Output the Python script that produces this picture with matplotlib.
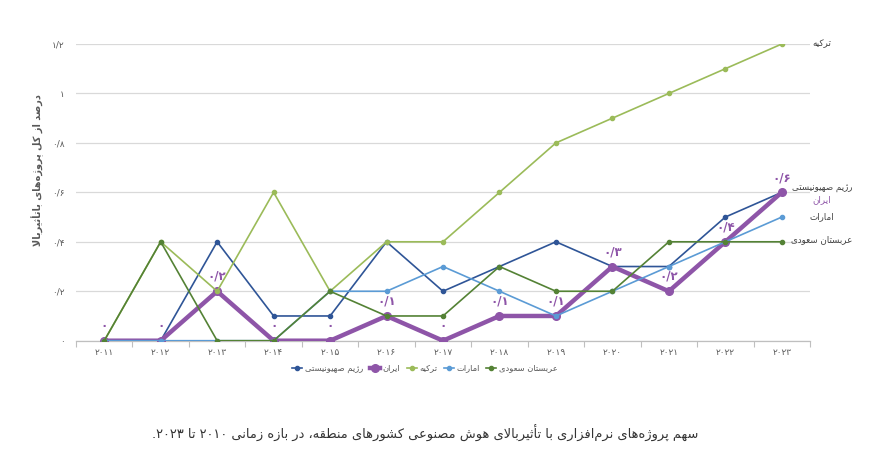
import re
import matplotlib
matplotlib.use('Agg')
import matplotlib.pyplot as plt
from matplotlib.lines import Line2D

# ---- Persian text helper (matplotlib has no shaping / bidi) ----
_B = {
    'ء': 0xFE80, 'آ': 0xFE81, 'أ': 0xFE83, 'ؤ': 0xFE85, 'إ': 0xFE87, 'ئ': 0xFE89,
    'ا': 0xFE8D, 'ب': 0xFE8F, 'ة': 0xFE93, 'ت': 0xFE95, 'ث': 0xFE99, 'ج': 0xFE9D,
    'ح': 0xFEA1, 'خ': 0xFEA5, 'د': 0xFEA9, 'ذ': 0xFEAB, 'ر': 0xFEAD, 'ز': 0xFEAF,
    'س': 0xFEB1, 'ش': 0xFEB5, 'ص': 0xFEB9, 'ض': 0xFEBD, 'ط': 0xFEC1, 'ظ': 0xFEC5,
    'ع': 0xFEC9, 'غ': 0xFECD, 'ف': 0xFED1, 'ق': 0xFED5, 'ك': 0xFED9, 'ل': 0xFEDD,
    'م': 0xFEE1, 'ن': 0xFEE5, 'ه': 0xFEE9, 'و': 0xFEED, 'ى': 0xFEEF, 'ي': 0xFEF1,
    'پ': 0xFB56, 'چ': 0xFB7A, 'ژ': 0xFB8A, 'ک': 0xFB8E, 'گ': 0xFB92, 'ی': 0xFBFC,
}
_RIGHT_ONLY = set('آأؤإاةدذرزوژى')
FORMS = {}
for ch, base in _B.items():
    if ch == 'ء':
        FORMS[ch] = (chr(base),)
    elif ch in _RIGHT_ONLY:
        FORMS[ch] = (chr(base), chr(base + 1))
    else:
        FORMS[ch] = tuple(chr(base + k) for k in range(4))
LAM_ALEF = {'آ': 0xFEF5, 'أ': 0xFEF7, 'إ': 0xFEF9, 'ا': 0xFEFB}


def fa(text):
    res = []
    i, n = 0, len(text)
    while i < n:
        c = text[i]
        if c not in FORMS:
            if c != '\u200c':
                res.append(c)
            i += 1
            continue
        prev = text[i - 1] if i > 0 else ''
        conn_prev = prev in FORMS and len(FORMS[prev]) == 4
        nxt = text[i + 1] if i + 1 < n else ''
        if c == 'ل' and nxt in LAM_ALEF:
            res.append(chr(LAM_ALEF[nxt] + (1 if conn_prev else 0)))
            i += 2
            continue
        f = FORMS[c]
        conn_next = len(f) == 4 and nxt in FORMS and len(FORMS[nxt]) >= 2
        if conn_prev and conn_next:
            res.append(f[3])
        elif conn_prev:
            res.append(f[1])
        elif conn_next:
            res.append(f[2])
        else:
            res.append(f[0])
        i += 1
    vis = ''.join(res)[::-1]
    return re.sub(r'[0-9۰-۹/]+', lambda m: m.group()[::-1], vis)


# ---- data ----
years = ['۲۰۱۱', '۲۰۱۲', '۲۰۱۳', '۲۰۱۴', '۲۰۱۵', '۲۰۱۶', '۲۰۱۷',
         '۲۰۱۸', '۲۰۱۹', '۲۰۲۰', '۲۰۲۱', '۲۰۲۲', '۲۰۲۳']
zionist = [0, 0, 0.4, 0.1, 0.1, 0.4, 0.2, 0.3, 0.4, 0.3, 0.3, 0.5, 0.6]
iran = [0, 0, 0.2, 0, 0, 0.1, 0, 0.1, 0.1, 0.3, 0.2, 0.4, 0.6]
turkey = [0, 0.4, 0.2, 0.6, 0.2, 0.4, 0.4, 0.6, 0.8, 0.9, 1.0, 1.1, 1.2]
uae = [0, 0, 0, 0, 0.2, 0.2, 0.3, 0.2, 0.1, 0.2, 0.3, 0.4, 0.5]
saudi = [0, 0.4, 0, 0, 0.2, 0.1, 0.1, 0.3, 0.2, 0.2, 0.4, 0.4, 0.4]
iran_labels = ['۰', '۰', '۰/۲', '۰', '۰', '۰/۱', '۰', '۰/۱', '۰/۱', '۰/۳', '۰/۲', '۰/۴', '۰/۶']

y_ticks = [0, 0.2, 0.4, 0.6, 0.8, 1.0, 1.2]
y_tick_labels = ['۰', '۰/۲', '۰/۴', '۰/۶', '۰/۸', '۱', '۱/۲']

names = {
    'zionist': 'رژیم صهیونیستی',
    'iran': 'ایران',
    'turkey': 'ترکیه',
    'uae': 'امارات',
    'saudi': 'عربستان سعودی',
}
title = 'سهم پروژه‌های نرم‌افزاری با تأثیربالای هوش مصنوعی کشورهای منطقه، در بازه زمانی ۲۰۱۰ تا ۲۰۲۳.'
ylabel = 'درصد از کل پروژه‌های باتأثیربالا'

colors = {
    'zionist': '#2F5597',
    'iran': '#8E55A8',
    'turkey': '#9BBB59',
    'uae': '#5B9BD5',
    'saudi': '#548235',
}

plt.rcParams['font.family'] = ['DejaVu Sans']

fig = plt.figure(figsize=(8.89, 4.66), dpi=100)
ax = fig.add_axes([76 / 889, 125.3 / 466, 734 / 889, 296.7 / 466])
x = list(range(len(years)))

series = [('zionist', zionist), ('iran', iran), ('turkey', turkey), ('uae', uae), ('saudi', saudi)]
for key, vals in series:
    if key == 'iran':
        ax.plot(x, vals, color=colors[key], lw=3.2, marker='o', ms=5.5, zorder=3)
    else:
        ax.plot(x, vals, color=colors[key], lw=1.2, marker='o', ms=3, zorder=3)

for xi, v, lab in zip(x, iran, iran_labels):
    ax.annotate(lab, (xi, v), xytext=(0, 6), textcoords='offset points',
                ha='center', va='bottom', color=colors['iran'], fontsize=8.5,
                fontweight='bold', zorder=5)

# series names at the right end
end_labels = [('turkey', turkey[-1], 0, '#404040'),
              ('zionist', zionist[-1], 3, '#404040'),
              ('iran', iran[-1], -5, colors['iran']),
              ('uae', uae[-1], 0, '#404040'),
              ('saudi', saudi[-1], 1.5, '#404040')]
for key, v, dy, col in end_labels:
    ax.annotate(fa(names[key]), (x[-1], v), xytext=(29, dy), textcoords='offset points',
                ha='center', va='center', color=col, fontsize=6.3, annotation_clip=False)

ax.set_xlim(-0.5, len(years) - 0.5)
ax.set_ylim(0, 1.2)
ax.set_yticks(y_ticks)
ax.set_yticklabels(y_tick_labels)
ax.set_xticks(x)
ax.set_xticklabels(years)
ax.set_xticks([i - 0.5 for i in range(len(years) + 1)], minor=True)
ax.tick_params(axis='x', which='major', length=0, pad=5, labelsize=6.5, labelcolor='#595959')
ax.tick_params(axis='x', which='minor', length=4, color='#bfbfbf', width=0.8)
ax.tick_params(axis='y', length=0, pad=8, labelsize=6.5, labelcolor='#595959')
ax.grid(axis='y', color='#d9d9d9', lw=0.9)
ax.set_axisbelow(True)
for s in ['top', 'right', 'left']:
    ax.spines[s].set_visible(False)
ax.spines['bottom'].set_color('#bfbfbf')
ax.spines['bottom'].set_linewidth(0.9)

fig.text(38 / 889, 1 - 170 / 466, fa(ylabel), rotation=90, ha='center', va='center',
         fontsize=7, color='#595959', fontweight='bold')

handles = []
for key, _ in series:
    if key == 'iran':
        h = Line2D([], [], color=colors[key], lw=3.2, marker='o', ms=5.5)
    else:
        h = Line2D([], [], color=colors[key], lw=1.2, marker='o', ms=3)
    handles.append(h)
fig.legend(handles, [fa(names[k]) for k, _ in series], loc='center', ncol=5,
           bbox_to_anchor=(425 / 889, 1 - 368 / 466), frameon=False, fontsize=6,
           handlelength=1.2, handletextpad=0.3, columnspacing=0.8, labelcolor='#595959')

fig.text(425 / 889, 1 - 433 / 466, fa(title), ha='center', va='center', fontsize=9.4,
         color='#333333')

fig.savefig('out.png', dpi=100)
